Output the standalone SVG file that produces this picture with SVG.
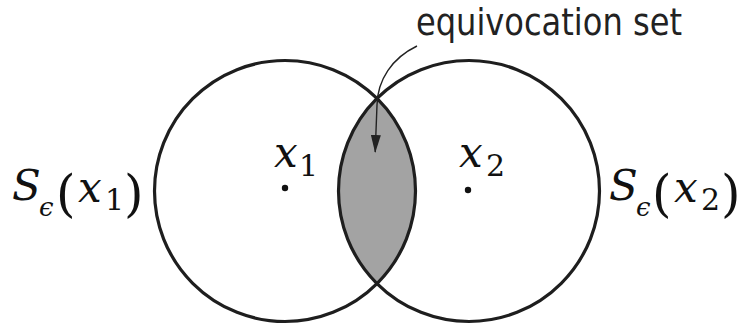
<svg xmlns="http://www.w3.org/2000/svg" width="740" height="331" viewBox="0 0 740 331">
  <style>
    .ring { fill: none; stroke: #1e1e1e; stroke-width: 3.2; }
    .lens { fill: #a3a3a3; stroke: none; }
    .dot { fill: #111; }
    .m { fill: #111; font-family: "DejaVu Serif", "Liberation Serif", serif; }
    .it { font-style: italic; }
    .big { font-size: 42px; }
    .sub { font-size: 30px; }
    .par { font-size: 50px; }
    .eps { font-size: 26px; }
    .lbl { fill: #222; font-family: "DejaVu Sans", sans-serif; font-size: 38px; }
    .conn { fill: none; stroke: #222; stroke-width: 1.4; }
  </style>
  <defs>
    <marker id="ah" viewBox="0 0 18 10" refX="17" refY="5" markerWidth="18" markerHeight="10" markerUnits="userSpaceOnUse" orient="auto">
      <path d="M0,0 L18,5 L0,10 z" fill="#222"/>
    </marker>
  </defs>

  <g id="intersection">
    <path class="lens" d="M377,98.45 A130.5,130.5 0 0 1 377,283.55 A130.5,130.5 0 0 1 377,98.45 z"/>
  </g>

  <g id="node-x1">
    <circle class="ring" cx="285" cy="191" r="130.5"/>
    <circle class="dot" cx="285" cy="188" r="3.2"/>
    <text class="m it big" x="274" y="167">x</text>
    <text class="m sub" x="299" y="176">1</text>
  </g>

  <g id="node-x2">
    <circle class="ring" cx="469" cy="191" r="130.5"/>
    <circle class="dot" cx="468" cy="190" r="3.2"/>
    <text class="m it big" x="459" y="167">x</text>
    <text class="m sub" x="486" y="176">2</text>
  </g>

  <g id="label-left">
    <text class="m it big" x="12" y="200">S</text>
    <text class="m it eps" x="39" y="216">ϵ</text>
    <text class="m par" x="56" y="211">(</text>
    <text class="m it big" x="78" y="202">x</text>
    <text class="m sub" x="105" y="210">1</text>
    <text class="m par" x="124" y="211">)</text>
  </g>

  <g id="label-right">
    <text class="m it big" x="609" y="200">S</text>
    <text class="m it eps" x="636" y="216">ϵ</text>
    <text class="m par" x="652" y="211">(</text>
    <text class="m it big" x="674" y="202">x</text>
    <text class="m sub" x="701" y="210">2</text>
    <text class="m par" x="721" y="211">)</text>
  </g>

  <g id="label-equivocation">
    <text class="lbl" x="416" y="35" textLength="266" lengthAdjust="spacingAndGlyphs">equivocation set</text>
  </g>

  <g id="connectors">
    <path class="conn" d="M417,46 C392,58 377.5,80 377,105 L375.2,152" marker-end="url(#ah)"/>
  </g>
</svg>
